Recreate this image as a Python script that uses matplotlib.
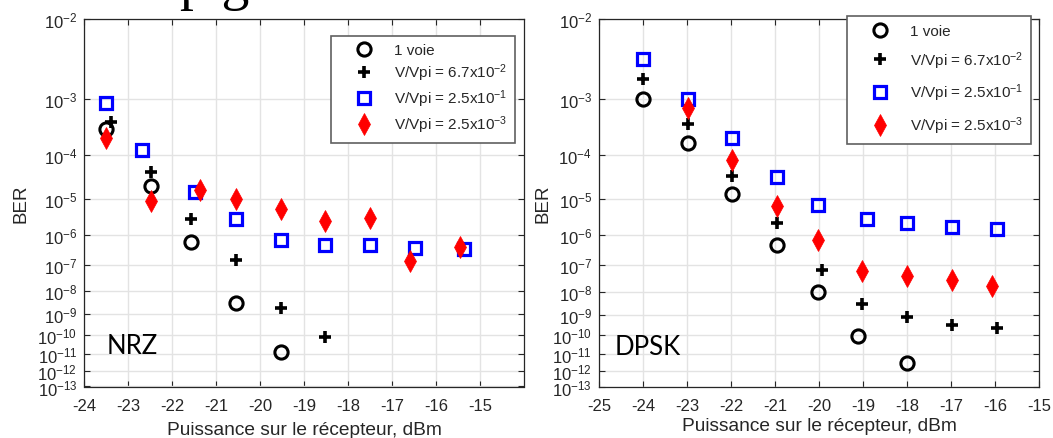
import numpy as np
import matplotlib
matplotlib.use("Agg")
import matplotlib.pyplot as plt
from matplotlib.ticker import FixedLocator, NullLocator

plt.rcParams['font.family'] = ['Liberation Sans', 'DejaVu Sans']
plt.rcParams['mathtext.fontset'] = 'custom'
plt.rcParams['mathtext.rm'] = 'Liberation Sans'
plt.rcParams['mathtext.it'] = 'Liberation Sans'
plt.rcParams['mathtext.default'] = 'regular'

# ---------------- data: NRZ ----------------
nrz_x_voie = [-23.5, -22.48, -21.57, -20.56, -19.54]
nrz_y_voie = [3.1e-4, 2.1e-5, 5.9e-7, 3.3e-9, 1.26e-11]
nrz_x_p067 = [-23.4, -22.48, -21.57, -20.56, -19.54, -18.53]
nrz_y_p067 = [4.2e-4, 4.4e-5, 2.8e-6, 1.45e-7, 2.0e-9, 7.8e-11]
nrz_x_p25 = [-23.5, -22.68, -21.48, -20.56, -19.54, -18.53, -17.51, -16.49, -15.36]
nrz_y_p25 = [8.5e-4, 1.25e-4, 1.53e-5, 2.8e-6, 7.1e-7, 4.8e-7, 4.6e-7, 3.7e-7, 3.4e-7]
nrz_x_p0025 = [-23.5, -22.48, -21.37, -20.56, -19.54, -18.53, -17.51, -16.6, -15.47]
nrz_y_p0025 = [2.2e-4, 8.7e-6, 1.67e-5, 9.8e-6, 5.3e-6, 2.6e-6, 3.1e-6, 1.38e-7, 4.0e-7]

# ---------------- data: DPSK ----------------
dpsk_x_voie = [-24.0, -22.98, -21.97, -20.95, -20.03, -19.12, -18.0]
dpsk_y_voie = [1.0e-3, 1.73e-4, 1.38e-5, 4.7e-7, 1.0e-8, 9.3e-11, 3.2e-12]
dpsk_x_p067 = [-24.0, -22.98, -21.97, -20.95, -19.93, -19.02, -18.0, -16.98, -15.96]
dpsk_y_p067 = [1.94e-3, 3.8e-4, 3.6e-5, 2.3e-6, 6.5e-8, 2.9e-9, 7.5e-10, 3.2e-10, 2.4e-10]
dpsk_x_p25 = [-24.0, -22.98, -21.97, -20.95, -20.03, -18.92, -18.0, -16.98, -15.96]
dpsk_y_p25 = [3.5e-3, 1.0e-3, 2.2e-4, 3.4e-5, 6.9e-6, 2.85e-6, 2.3e-6, 1.75e-6, 1.5e-6]
dpsk_x_p0025 = [-22.98, -21.97, -20.95, -20.03, -19.02, -18.0, -16.98, -16.07]
dpsk_y_p0025 = [7.1e-4, 8.0e-5, 6.6e-6, 6.8e-7, 6.2e-8, 3.9e-8, 2.75e-8, 1.66e-8]

labels = ['1 voie', r'V/Vpi = 6.7x10$^{-2}$', r'V/Vpi = 2.5x10$^{-1}$', r'V/Vpi = 2.5x10$^{-3}$']
ytick_exps = list(range(2, 14))
xlabel = 'Puissance sur le récepteur, dBm'
ylabel = 'BER'
tags = ['NRZ', 'DPSK']


def fwd(y):
    y = np.clip(np.asarray(y, dtype=float), 1e-300, 1 - 1e-12)
    return -np.log10(-np.log10(y))


def inv(t):
    return 10.0 ** (-(10.0 ** (-np.asarray(t, dtype=float))))


fig = plt.figure(figsize=(10.53, 4.39), dpi=100)
W, H = 1053, 439
axL = fig.add_axes([84.3 / W, 1 - 387.5 / H, 440 / W, 367.5 / H])
axR = fig.add_axes([599 / W, 1 - 388 / H, 440 / W, 368 / H])

TXT = '#262626'
styles = [
    dict(marker='o', ls='none', mfc='none', mec='black', ms=9.5, mew=2.2),
    dict(marker='+', ls='none', color='black', ms=9, mew=2.6),
    dict(marker='s', ls='none', mfc='none', mec='#0000ff', ms=8.3, mew=2.3),
    dict(marker='d', ls='none', color='#ff0000', mec='#ff0000', ms=11, mew=0.5),
]


def setup(ax, xlim, xticks, tag, tagx, legend_anchor, labelspacing, xlab_y, ylab_x):
    ax.set_yscale('function', functions=(fwd, inv))
    ax.set_ylim(1e-13, 1e-2)
    ax.set_xlim(*xlim)
    ax.yaxis.set_major_locator(FixedLocator([10.0 ** (-n) for n in ytick_exps]))
    ax.yaxis.set_minor_locator(NullLocator())
    ax.set_yticklabels([r'$10^{-%d}$' % n for n in ytick_exps])
    ax.set_xticks(xticks)
    ax.set_xticklabels(['%d' % v for v in xticks])
    ax.grid(True, color='#e3e3e3', lw=1.0)
    ax.set_axisbelow(True)
    ax.tick_params(labelsize=12, direction='in', length=4, width=0.8, colors=TXT,
                   top=True, right=True, labelcolor=TXT)
    ax.tick_params(axis='x', pad=8)
    ax.tick_params(axis='y', pad=5)
    for s in ax.spines.values():
        s.set_linewidth(0.9)
        s.set_color(TXT)
    ax.set_xlabel(xlabel, fontsize=13.8, color=TXT)
    ax.xaxis.set_label_coords(0.5, xlab_y)
    ax.set_ylabel(ylabel, fontsize=13.5, color=TXT)
    ax.yaxis.set_label_coords(ylab_x, 0.5)
    ax.text(tagx, 1.05e-11, tag, fontsize=18.5, va='baseline', family=['Lato', 'DejaVu Sans'],
            color='black')
    leg = ax.legend(loc='upper right', bbox_to_anchor=legend_anchor, fontsize=11,
                    frameon=True, fancybox=False, edgecolor='#606060', framealpha=1,
                    handletextpad=0.3, borderpad=0.5, labelspacing=labelspacing,
                    borderaxespad=0, handlelength=3.3)
    leg.get_frame().set_linewidth(1.2)
    for t in leg.get_texts():
        t.set_color(TXT)


series_L = [(nrz_x_voie, nrz_y_voie), (nrz_x_p067, nrz_y_p067), (nrz_x_p25, nrz_y_p25), (nrz_x_p0025, nrz_y_p0025)]
series_R = [(dpsk_x_voie, dpsk_y_voie), (dpsk_x_p067, dpsk_y_p067), (dpsk_x_p25, dpsk_y_p25), (dpsk_x_p0025, dpsk_y_p0025)]

for (x, y), st, lab in zip(series_L, styles, labels):
    axL.plot(x, y, label=lab, **st)
for (x, y), st, lab in zip(series_R, styles, labels):
    axR.plot(x, y, label=lab, **st)

setup(axL, (-24, -14), list(range(-24, -14)), tags[0], -23.5, (0.979, 0.9545), 0.29, -0.093, -0.1245)
setup(axR, (-25, -15), list(range(-25, -14)), tags[1], -24.65, (0.982, 1.007), 0.72, -0.082, -0.107)

# partially visible caption text at the very top (cut by the picture edge)
fig.text(180 / W, 1 + 1 / H, 'p g', family=['Liberation Serif', 'DejaVu Serif'], fontsize=40,
         va='baseline', ha='left', color='black')

fig.savefig('out.png', dpi=100)
